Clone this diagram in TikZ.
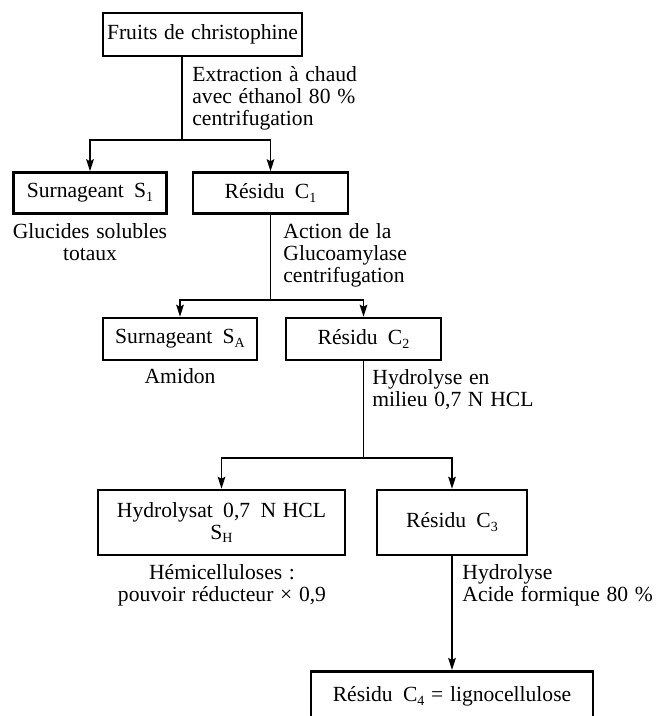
\documentclass[tikz,border=0pt]{standalone}
\usepackage{fontspec}
\setmainfont{Liberation Serif}
\usetikzlibrary{arrows.meta}
\newcommand\fs{\fontsize{10.8}{11}\selectfont\spaceskip=0.31em plus 0.1em}
\newcommand\sbs[1]{\raisebox{-0.4ex}{\fontsize{7}{7}\selectfont #1}}
\begin{document}
\begin{tikzpicture}[x=0.5pt,y=-0.5pt,
  box/.style={draw, line width=1.25pt, inner sep=0pt, align=center, font=\fs},
  lbl/.style={inner sep=0pt, align=left, anchor=north west, font=\fs},
  note/.style={inner sep=0pt, align=center, anchor=north, font=\fs},
  arr/.style={-{Stealth[length=6pt,width=3.8pt,inset=1pt]}, line width=0.8pt},
  ln/.style={line width=0.8pt}]
\useasboundingbox (0,0) rectangle (661,716);
% boxes
\node[box, minimum width=99.5pt, minimum height=21.5pt] (A) at (202.5,34.5) {Fruits de christophine};
\node[box, minimum width=76.5pt, minimum height=20.5pt] (S1) at (90,193) {Surnageant\, S\sbs{1}};
\node[box, minimum width=77.5pt, minimum height=20.5pt] (C1) at (270.5,193) {Résidu\, C\sbs{1}};
\node[box, minimum width=77pt, minimum height=21pt] (SA) at (180,339) {Surnageant\, S\sbs{A}};
\node[box, minimum width=77.5pt, minimum height=21pt] (C2) at (363.5,339) {Résidu\, C\sbs{2}};
\node[box, minimum width=123.5pt, minimum height=32.5pt] (SH) at (221.5,522.5) {Hydrolysat\, 0,7\, N HCL\\S\sbs{H}};
\node[box, minimum width=75pt, minimum height=32.5pt] (C3) at (452,522.5) {Résidu\, C\sbs{3}};
\node[box, minimum width=141pt, minimum height=25pt, anchor=north] (C4) at (452,670) {Résidu\, C\sbs{4} = lignocellulose};
% labels
\node[lbl] (L1) at (192,66) {Extraction à chaud\\avec éthanol 80 \%\\centrifugation};
\node[lbl] (L2) at (283,223) {Action de la\\Glucoamylase\\centrifugation};
\node[lbl] (L3) at (372,369) {Hydrolyse en\\milieu 0,7 N HCL};
\node[lbl] (L4) at (462,564) {Hydrolyse\\Acide formique 80 \%};
\node[note] (G1) at (90,223) {Glucides solubles\\totaux};
\node[note] (G2) at (180,368) {Amidon};
\node[note] (G3) at (222,564) {Hémicelluloses :\\pouvoir réducteur × 0,9};
% connectors
\coordinate (j1) at (182,140);
\coordinate (j2) at (270.5,300);
\coordinate (j3) at (363.5,458);
\draw[ln] (A.south -| j1) -- (j1);
\draw[arr] (j1) -| (S1);
\draw[arr] (j1) -| (C1);
\draw[ln] (C1) -- (j2);
\draw[arr] (j2) -| (SA);
\draw[arr] (j2) -| (C2);
\draw[ln] (C2) -- (j3);
\draw[arr] (j3) -| (SH);
\draw[arr] (j3) -| (C3);
\draw[arr] (C3) -- (C4);
\end{tikzpicture}
\end{document}
